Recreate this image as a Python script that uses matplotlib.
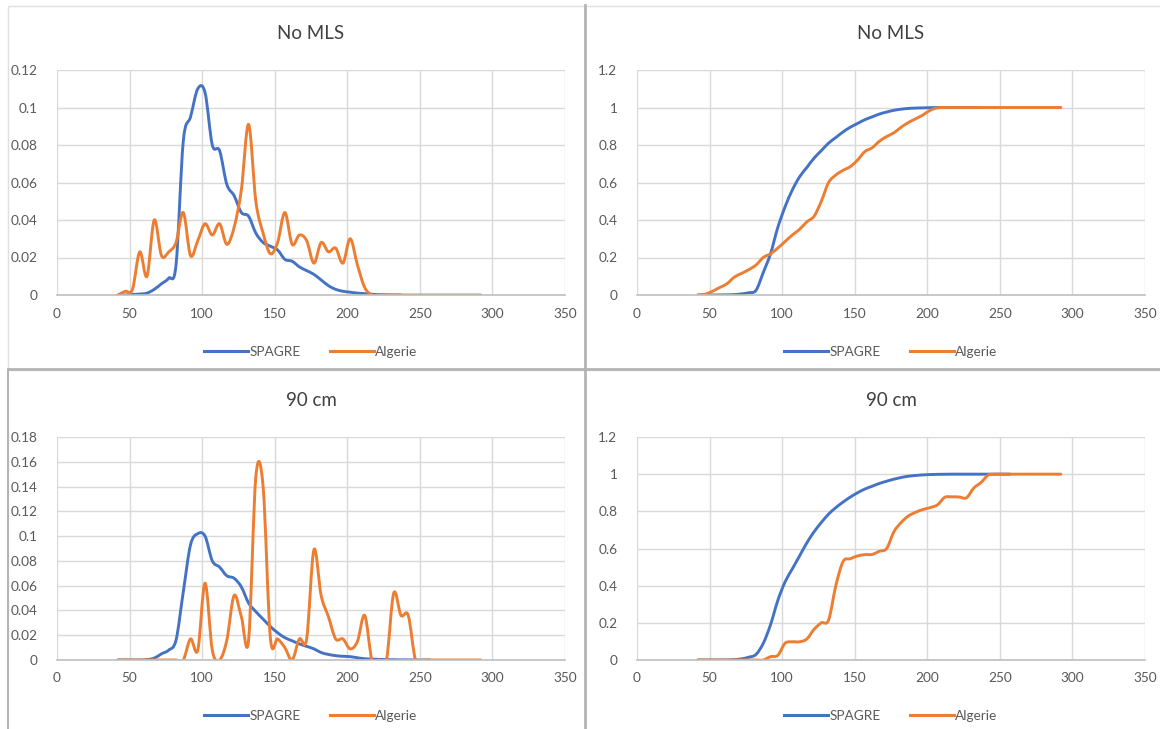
import numpy as np
import matplotlib
matplotlib.use("Agg")
import matplotlib.pyplot as plt
from matplotlib.path import Path
from matplotlib.patches import PathPatch, Rectangle
from matplotlib.lines import Line2D

plt.rcParams['font.family'] = ['Lato', 'DejaVu Sans']

# longueur (cm) : pas de 5
x = list(range(42, 293, 5))

# --- No MLS : densité ---
spagre_pdf_nomls = [0, 0, 0.0003, 0.0005, 0.001, 0.003, 0.006, 0.009, 0.016, 0.082,
                    0.095, 0.110, 0.108, 0.080, 0.077, 0.059, 0.053, 0.044, 0.042, 0.033,
                    0.028, 0.026, 0.024, 0.019, 0.018, 0.015, 0.013, 0.011, 0.008, 0.005,
                    0.003, 0.002, 0.0015, 0.001, 0.0007, 0.0004, 0.0002, 0.0001, 0, 0]
algerie_pdf_nomls = [0, 0.002, 0.003, 0.023, 0.010, 0.040, 0.021, 0.023, 0.028, 0.044,
                     0.021, 0.029, 0.038, 0.032, 0.038, 0.027, 0.036, 0.056, 0.091, 0.050,
                     0.033, 0.022, 0.028, 0.044, 0.027, 0.032, 0.029, 0.017, 0.028, 0.023,
                     0.025, 0.017, 0.030, 0.016, 0.004, 0] + [0] * 15

# --- No MLS : cumul ---
spagre_cdf_nomls = [0, 0, 0, 0.0005, 0.001, 0.002, 0.006, 0.012, 0.025, 0.12,
                    0.22, 0.36, 0.47, 0.56, 0.63, 0.68, 0.73, 0.77, 0.81, 0.84,
                    0.87, 0.895, 0.915, 0.935, 0.95, 0.965, 0.976, 0.985, 0.991, 0.995,
                    0.997, 0.998, 0.999, 1, 1, 1, 1, 1, 1, 1]
algerie_cdf_nomls = [0, 0.004, 0.02, 0.04, 0.06, 0.095, 0.115, 0.135, 0.16, 0.20,
                     0.22, 0.25, 0.285, 0.32, 0.35, 0.39, 0.42, 0.50, 0.60, 0.64,
                     0.665, 0.685, 0.72, 0.765, 0.785, 0.82, 0.845, 0.865, 0.895, 0.92,
                     0.94, 0.96, 0.985, 0.998, 1, 1] + [1] * 15

# --- 90 cm : densité ---
spagre_pdf_90 = [0, 0, 0, 0, 0.0003, 0.0015, 0.005, 0.008, 0.016, 0.055,
                 0.093, 0.102, 0.100, 0.080, 0.075, 0.068, 0.066, 0.059, 0.046, 0.039,
                 0.033, 0.027, 0.022, 0.018, 0.0155, 0.013, 0.011, 0.009, 0.006, 0.0045,
                 0.0035, 0.003, 0.0027, 0.0018, 0.001, 0.0007, 0.0005, 0.0003, 0.0002, 0.0001,
                 0.0001, 0, 0, 0]
algerie_pdf_90 = [0] * 10 + [0.017, 0.008, 0.062, 0.008, 0, 0.016, 0.052, 0.035, 0.016, 0.148,
                             0.140, 0.018, 0.017, 0.010, 0, 0.017, 0.017, 0.089, 0.052, 0.035,
                             0.017, 0.017, 0.009, 0.015, 0.036, 0, 0, 0, 0.054, 0.036,
                             0.036, 0] + [0] * 9

# --- 90 cm : cumul ---
spagre_cdf_90 = [0, 0, 0, 0, 0.0003, 0.002, 0.006, 0.015, 0.03, 0.09,
                 0.19, 0.32, 0.42, 0.49, 0.56, 0.63, 0.69, 0.74, 0.785, 0.82,
                 0.85, 0.877, 0.90, 0.92, 0.935, 0.95, 0.962, 0.973, 0.982, 0.989,
                 0.993, 0.996, 0.998, 0.999, 0.9995, 1, 1, 1, 1, 1, 1, 1, 1, 1]
algerie_cdf_90 = [0] * 10 + [0.018, 0.025, 0.090, 0.098, 0.098, 0.113, 0.165, 0.200, 0.215, 0.40,
                             0.53, 0.545, 0.56, 0.567, 0.568, 0.585, 0.60, 0.69, 0.74, 0.775,
                             0.795, 0.81, 0.82, 0.835, 0.875, 0.878, 0.877, 0.873, 0.925, 0.955,
                             0.995, 1.0] + [1] * 9

titles = ["No MLS", "No MLS", "90 cm", "90 cm"]
series = [(spagre_pdf_nomls, algerie_pdf_nomls), (spagre_cdf_nomls, algerie_cdf_nomls),
          (spagre_pdf_90, algerie_pdf_90), (spagre_cdf_90, algerie_cdf_90)]
y_max = [0.12, 1.2, 0.18, 1.2]
y_step = [0.02, 0.2, 0.02, 0.2]

BLUE = "#4472C4"
ORANGE = "#ED7D31"
GRID = "#d9d9d9"
TXT = "#595959"


def smooth_path(xs, ys):
    # courbe lissée façon Excel (Bézier type Catmull-Rom)
    p = np.column_stack([xs, ys]).astype(float)
    n = len(p)
    verts = [p[0]]
    codes = [Path.MOVETO]
    for i in range(n - 1):
        p0 = p[i - 1] if i > 0 else p[i]
        p3 = p[i + 2] if i + 2 < n else p[i + 1]
        c1 = p[i] + (p[i + 1] - p0) / 6
        c2 = p[i + 1] - (p3 - p[i]) / 6
        verts += [c1, c2, p[i + 1]]
        codes += [Path.CURVE4] * 3
    return Path(verts, codes)


def fmt(v):
    s = ("%.2f" % v).rstrip("0").rstrip(".")
    return s


fig = plt.figure(figsize=(11.6, 7.29), dpi=100)

# cadres des 4 graphiques
frame = dict(transform=fig.transFigure, fill=False, zorder=0)
fig.patches.append(Rectangle((8 / 1160, 1 - 370 / 729), 577 / 1160, 364 / 729, ec="#e0e0e0", lw=1, **frame))
fig.patches.append(Rectangle((585 / 1160, 1 - 370 / 729), 580 / 1160, 364 / 729, ec="#e0e0e0", lw=1, **frame))
fig.add_artist(Line2D([585 / 1160, 585 / 1160], [0, 1 - 5 / 729], transform=fig.transFigure, color="#b4b4b4", lw=2))
fig.add_artist(Line2D([8 / 1160, 1], [1 - 369 / 729, 1 - 369 / 729], transform=fig.transFigure, color="#b4b4b4", lw=2))
fig.add_artist(Line2D([8 / 1160, 8 / 1160], [0, 1 - 370 / 729], transform=fig.transFigure, color="#b4b4b4", lw=1.5))

lefts = [57, 637, 57, 637]
tops = [70, 70, 437, 437]
bottoms = [295, 295, 660, 660]

for k in range(4):
    l = lefts[k] / 1160
    w = 508 / 1160
    b = 1 - bottoms[k] / 729
    h = (bottoms[k] - tops[k]) / 729
    ax = fig.add_axes([l, b, w, h])
    ax.set_xlim(0, 350)
    ax.set_ylim(0, y_max[k])
    ax.set_xticks(range(0, 351, 50))
    yt = np.round(np.arange(0, y_max[k] + 1e-9, y_step[k]), 3)
    ax.set_yticks(yt)
    ax.set_yticklabels([fmt(v) for v in yt])
    ax.grid(True, color=GRID, lw=1)
    ax.set_axisbelow(True)
    for s in ["top", "right", "left"]:
        ax.spines[s].set_visible(False)
    ax.spines["bottom"].set_color("#bfbfbf")
    ax.spines["bottom"].set_linewidth(1.2)
    ax.tick_params(length=0, labelsize=9.8, colors=TXT, pad=9)
    ax.tick_params(axis="y", pad=14)

    sp, al = series[k]
    for ys, col in [(sp, BLUE), (al, ORANGE)]:
        xs = x[:len(ys)]
        ax.add_patch(PathPatch(smooth_path(xs, ys), fill=False, ec=col, lw=2.1,
                               capstyle="round", joinstyle="round", clip_on=True))

    ax.set_title(titles[k], fontsize=13.5, color="#404040", pad=22)
    handles = [Line2D([], [], color=BLUE, lw=2.2), Line2D([], [], color=ORANGE, lw=2.2)]
    ax.legend(handles, ["SPAGRE", "Algerie"], loc="upper center", bbox_to_anchor=(0.5, -0.17),
              ncol=2, frameon=False, fontsize=9.8, labelcolor=TXT, handlelength=3.2,
              handletextpad=0.1, columnspacing=2.2)

fig.savefig("out.png", dpi=100, facecolor="white")
